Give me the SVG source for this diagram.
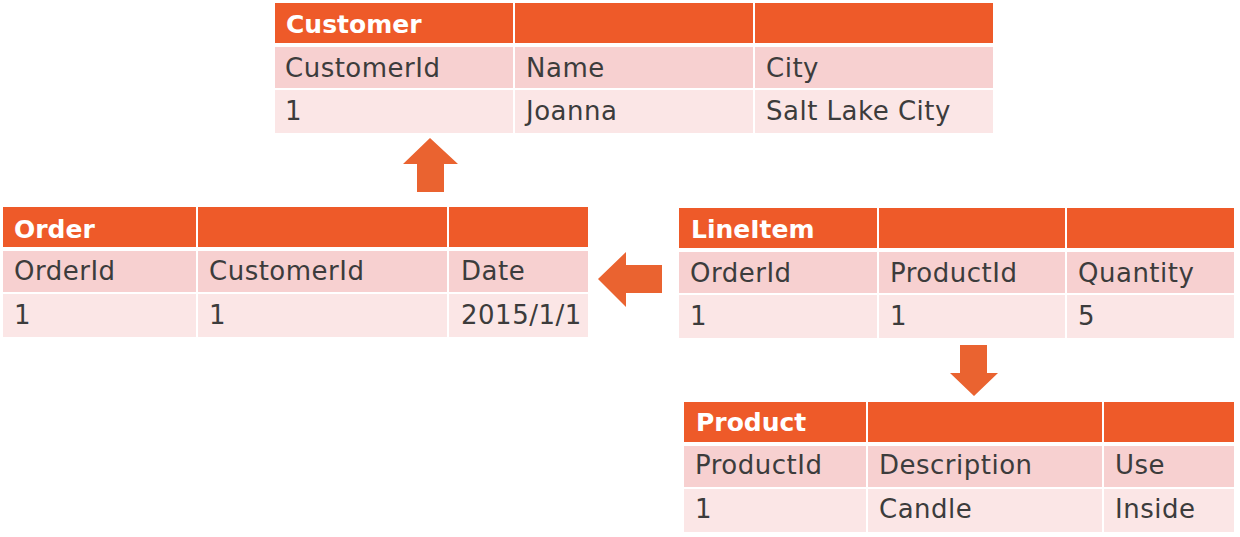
<svg xmlns="http://www.w3.org/2000/svg" width="1240" height="537" viewBox="0 0 1240 537">
<style>
.h{fill:#EE5A29}
.r1{fill:#F7D0D0}
.r2{fill:#FBE6E6}
.ht{font-family:"DejaVu Sans",sans-serif;font-weight:bold;font-size:25px;fill:#FFFFFF}
.t{font-family:"DejaVu Sans",sans-serif;font-size:26px;fill:#3C3C3C;letter-spacing:0.5px}
.arrow{fill:#EA6330}
</style>
<rect x="0" y="0" width="1240" height="537" fill="#FFFFFF"/>
<g id="customer">
<rect class="h" x="275" y="3" width="238" height="40"/>
<rect class="h" x="515" y="3" width="238" height="40"/>
<rect class="h" x="755" y="3" width="238" height="40"/>
<rect class="r1" x="275" y="47" width="238" height="41"/>
<rect class="r1" x="515" y="47" width="238" height="41"/>
<rect class="r1" x="755" y="47" width="238" height="41"/>
<rect class="r2" x="275" y="90" width="238" height="43"/>
<rect class="r2" x="515" y="90" width="238" height="43"/>
<rect class="r2" x="755" y="90" width="238" height="43"/>
<text class="ht" x="286" y="33">Customer</text>
<text class="t" x="285" y="77">CustomerId</text>
<text class="t" x="526" y="77">Name</text>
<text class="t" x="766" y="77">City</text>
<text class="t" x="285" y="120">1</text>
<text class="t" x="526" y="120">Joanna</text>
<text class="t" x="766" y="120">Salt Lake City</text>
</g>
<g id="order">
<rect class="h" x="3" y="207" width="193" height="40"/>
<rect class="h" x="198" y="207" width="249" height="40"/>
<rect class="h" x="449" y="207" width="139" height="40"/>
<rect class="r1" x="3" y="251" width="193" height="41"/>
<rect class="r1" x="198" y="251" width="249" height="41"/>
<rect class="r1" x="449" y="251" width="139" height="41"/>
<rect class="r2" x="3" y="294" width="193" height="43"/>
<rect class="r2" x="198" y="294" width="249" height="43"/>
<rect class="r2" x="449" y="294" width="139" height="43"/>
<text class="ht" x="14" y="238">Order</text>
<text class="t" x="14" y="280">OrderId</text>
<text class="t" x="209" y="280">CustomerId</text>
<text class="t" x="461" y="280">Date</text>
<text class="t" x="14" y="324">1</text>
<text class="t" x="209" y="324">1</text>
<text class="t" x="461" y="324">2015/1/1</text>
</g>
<g id="lineitem">
<rect class="h" x="679" y="208" width="198" height="40"/>
<rect class="h" x="879" y="208" width="186" height="40"/>
<rect class="h" x="1067" y="208" width="167" height="40"/>
<rect class="r1" x="679" y="252" width="198" height="41"/>
<rect class="r1" x="879" y="252" width="186" height="41"/>
<rect class="r1" x="1067" y="252" width="167" height="41"/>
<rect class="r2" x="679" y="295" width="198" height="43"/>
<rect class="r2" x="879" y="295" width="186" height="43"/>
<rect class="r2" x="1067" y="295" width="167" height="43"/>
<text class="ht" x="691" y="238">LineItem</text>
<text class="t" x="690" y="282">OrderId</text>
<text class="t" x="890" y="282">ProductId</text>
<text class="t" x="1078" y="282">Quantity</text>
<text class="t" x="690" y="325">1</text>
<text class="t" x="890" y="325">1</text>
<text class="t" x="1078" y="325">5</text>
</g>
<g id="product">
<rect class="h" x="684" y="402" width="182" height="40"/>
<rect class="h" x="868" y="402" width="234" height="40"/>
<rect class="h" x="1104" y="402" width="130" height="40"/>
<rect class="r1" x="684" y="446" width="182" height="41"/>
<rect class="r1" x="868" y="446" width="234" height="41"/>
<rect class="r1" x="1104" y="446" width="130" height="41"/>
<rect class="r2" x="684" y="489" width="182" height="43"/>
<rect class="r2" x="868" y="489" width="234" height="43"/>
<rect class="r2" x="1104" y="489" width="130" height="43"/>
<text class="ht" x="696" y="431">Product</text>
<text class="t" x="695" y="474">ProductId</text>
<text class="t" x="879" y="474">Description</text>
<text class="t" x="1115" y="474">Use</text>
<text class="t" x="695" y="518">1</text>
<text class="t" x="879" y="518">Candle</text>
<text class="t" x="1115" y="518">Inside</text>
</g>
<g id="connectors">
<polygon class="arrow" points="430,138 458,164 444,164 444,192 417,192 417,164 403,164"/>
<polygon class="arrow" points="598,279 626,252 626,265 662,265 662,293 626,293 626,307"/>
<polygon class="arrow" points="974,396 998,373 987,373 987,345 960,345 960,373 950,373"/>
</g>
</svg>
